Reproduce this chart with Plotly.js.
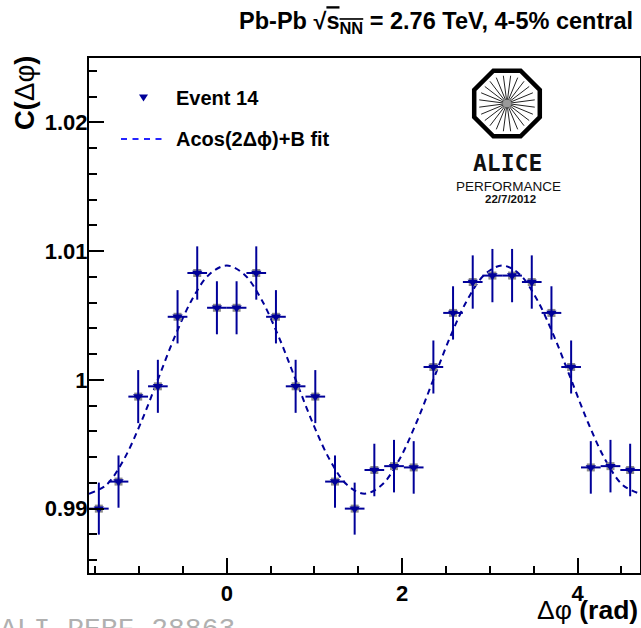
<!DOCTYPE html>
<html>
<head>
<meta charset="utf-8">
<script src="https://cdn.plot.ly/plotly-3.0.1.min.js"></script>
<style>html,body{margin:0;padding:0;background:#fff;} #chart{width:641px;height:628px;}</style>
</head>
<body>
<div id="chart"></div>
<script>
// ---- data ----
const binCenters = [-1.4586, -1.2342, -1.0098, -0.7854, -0.5610, -0.3366, -0.1122,
                    0.1122, 0.3366, 0.5610, 0.7854, 1.0098, 1.2342, 1.4586,
                    1.6830, 1.9074, 2.1318, 2.3562, 2.5806, 2.8050, 3.0294,
                    3.2538, 3.4782, 3.7026, 3.9270, 4.1514, 4.3758, 4.6002];
const corrValues = [0.9900, 0.9921, 0.9987, 0.9995, 1.0049, 1.0083, 1.0056,
                    1.0056, 1.0083, 1.0049, 0.9995, 0.9987, 0.9921, 0.9900,
                    0.9930, 0.9933, 0.9932, 1.0010, 1.0052, 1.0076, 1.0081,
                    1.0081, 1.0076, 1.0052, 1.0010, 0.9932, 0.9933, 0.9930];
const corrErrors = [0.00202, 0.00203, 0.00206, 0.00206, 0.00207, 0.00207, 0.00206,
                    0.00206, 0.00207, 0.00207, 0.00206, 0.00206, 0.00203, 0.00202,
                    0.00204, 0.00204, 0.00204, 0.00206, 0.00207, 0.00207, 0.00207,
                    0.00207, 0.00207, 0.00207, 0.00206, 0.00204, 0.00204, 0.00204];
const halfBinWidth = 0.1122;
const fitX = [-1.5708, -1.3744, -1.1781, -0.9817, -0.7854, -0.5890, -0.3927, -0.1963,
              0.0000, 0.1963, 0.3927, 0.5890, 0.7854, 0.9817, 1.1781, 1.3744,
              1.5708, 1.7671, 1.9635, 2.1598, 2.3562, 2.5525, 2.7489, 2.9452,
              3.1416, 3.3379, 3.5343, 3.7306, 3.9270, 4.1233, 4.3197, 4.5160, 4.7124];
const fitY = [0.99116, 0.99183, 0.99376, 0.99663, 1.00002, 1.00341, 1.00628, 1.00821,
              1.00888, 1.00821, 1.00628, 1.00341, 1.00002, 0.99663, 0.99376, 0.99183,
              0.99116, 0.99183, 0.99376, 0.99663, 1.00002, 1.00341, 1.00628, 1.00821,
              1.00888, 1.00821, 1.00628, 1.00341, 1.00002, 0.99663, 0.99376, 0.99183,
              0.99116];
const seriesName = 'Event 14';
const fitName = 'Acos(2\u0394\u03d5)+B fit';

// ---- layout helpers (pixel -> paper) ----
const W = 641, H = 628;
const L = 89, R = 640, T = 58, B = 573;
function px(x){ return (x - L) / (R - L); }
function py(y){ return (B - y) / (B - T); }
const FONT = 'Liberation Sans, Arial, Helvetica, sans-serif';
const NAVY = '#000099';

// ALICE logo octagon + rays (decoration)
const cx = 507, cy = 103.5;
let oct = '';
for (let k = 0; k < 8; k++) {
  const a = (22.5 + 45 * k) * Math.PI / 180, r = 35.5;
  oct += (k === 0 ? 'M' : 'L') + px(cx + r * Math.cos(a)).toFixed(5) + ',' + py(cy + r * Math.sin(a)).toFixed(5) + ' ';
}
oct += 'Z';
let rays = '';
for (let k = 0; k < 24; k++) {
  const a = (15 * k + 7.5) * Math.PI / 180;
  rays += 'M' + px(cx + 3 * Math.cos(a)).toFixed(5) + ',' + py(cy + 3 * Math.sin(a)).toFixed(5) +
          ' L' + px(cx + 28 * Math.cos(a)).toFixed(5) + ',' + py(cy + 28 * Math.sin(a)).toFixed(5) + ' ';
}
const legTri = 'M' + px(139).toFixed(5) + ',' + py(94.5).toFixed(5) + ' L' + px(148).toFixed(5) + ',' + py(94.5).toFixed(5) +
               ' L' + px(143.5).toFixed(5) + ',' + py(101.5).toFixed(5) + ' Z';

const traces = [
  { x: fitX, y: fitY, type: 'scatter', mode: 'lines', name: fitName, showlegend: false,
    line: { color: NAVY, width: 2, dash: '6px,4.5px', shape: 'spline' }, hoverinfo: 'skip' },
  { x: binCenters, y: corrValues, type: 'scatter', mode: 'markers', showlegend: false, hoverinfo: 'skip',
    marker: { symbol: 'square', size: 8, color: '#8c8c8c' } },
  { x: binCenters, y: corrValues, type: 'scatter', mode: 'markers', name: seriesName, showlegend: false,
    marker: { symbol: 'triangle-down', size: 9, color: NAVY },
    error_x: { type: 'constant', value: halfBinWidth, width: 0, thickness: 2, color: NAVY },
    error_y: { type: 'data', array: corrErrors, width: 0, thickness: 2, color: NAVY } }
];

const tickFont = { family: FONT, size: 22, color: '#000', weight: 'bold' };
const layout = {
  width: W, height: H,
  margin: { l: L, r: W - R, t: T, b: H - B, pad: 0 },
  paper_bgcolor: '#fff', plot_bgcolor: '#fff',
  showlegend: false,
  title: { text: 'Pb-Pb \u221a<span style="text-decoration:overline">s<sub>NN</sub></span> = 2.76 TeV, 4-5% central',
           font: { family: FONT, size: 23.5, color: '#000', weight: 'bold' },
           xref: 'container', x: 633 / W, xanchor: 'right', yref: 'container', y: 1 - 21 / H, yanchor: 'middle' },
  xaxis: { range: [-Math.PI / 2, 3 * Math.PI / 2], tick0: 0, dtick: 2, ticks: 'inside', ticklen: 15, tickwidth: 2,
           tickcolor: '#000', showline: true, linecolor: '#000', linewidth: 2, mirror: true,
           showgrid: false, zeroline: false, tickfont: tickFont,
           minor: { tick0: 0, dtick: 0.5, ticks: 'inside', ticklen: 7.5, tickwidth: 2, tickcolor: '#000', showgrid: false } },
  yaxis: { range: [0.985, 1.025], tick0: 1, dtick: 0.01, ticks: 'inside', ticklen: 15, tickwidth: 2,
           tickcolor: '#000', showline: true, linecolor: '#000', linewidth: 2, mirror: true,
           showgrid: false, zeroline: false, tickfont: tickFont, ticklabelstandoff: -5,
           minor: { tick0: 1, dtick: 0.002, ticks: 'inside', ticklen: 7.5, tickwidth: 2, tickcolor: '#000', showgrid: false } },
  shapes: [
    { type: 'path', xref: 'paper', yref: 'paper', path: oct, line: { color: '#000', width: 4.5 }, fillcolor: 'rgba(0,0,0,0)' },
    { type: 'path', xref: 'paper', yref: 'paper', path: rays, line: { color: '#222', width: 1 } },
    { type: 'circle', xref: 'paper', yref: 'paper', x0: px(cx - 4), x1: px(cx + 4), y0: py(cy + 4), y1: py(cy - 4),
      line: { width: 0 }, fillcolor: '#999' },
    { type: 'path', xref: 'paper', yref: 'paper', path: legTri, line: { width: 0 }, fillcolor: NAVY },
    { type: 'line', xref: 'paper', yref: 'paper', x0: px(121), x1: px(167), y0: py(139), y1: py(139),
      line: { color: '#2424ff', width: 2, dash: '6px,5.5px' } }
  ],
  annotations: [
    { text: 'Event 14', xref: 'paper', yref: 'paper', x: px(174), y: py(98), xanchor: 'left', yanchor: 'middle',
      showarrow: false, font: { family: FONT, size: 20, color: '#000', weight: 'bold' } },
    { text: fitName, xref: 'paper', yref: 'paper', x: px(174), y: py(139), xanchor: 'left', yanchor: 'middle',
      showarrow: false, font: { family: FONT, size: 20, color: '#000', weight: 'bold' } },
    { text: '<b>C(</b>\u0394\u03c6<b>)</b>', xref: 'paper', yref: 'paper', x: px(24), y: py(54), xanchor: 'center', yanchor: 'top',
      textangle: -90, showarrow: false, font: { family: FONT, size: 27.5, color: '#000' } },
    { text: '\u0394\u03c6 <b>(rad)</b>', xref: 'paper', yref: 'paper', x: px(640), y: py(627), xanchor: 'right', yanchor: 'bottom',
      showarrow: false, font: { family: FONT, size: 26.5, color: '#000' } },
    { text: 'ALICE', xref: 'paper', yref: 'paper', x: px(507), y: py(163), xanchor: 'center', yanchor: 'middle',
      showarrow: false, font: { family: 'DejaVu Sans Mono, monospace', size: 23, color: '#111', weight: 'bold' } },
    { text: 'PERFORMANCE', xref: 'paper', yref: 'paper', x: px(508), y: py(186.5), xanchor: 'center', yanchor: 'middle',
      showarrow: false, font: { family: FONT, size: 13.5, color: '#111' } },
    { text: '22/7/2012', xref: 'paper', yref: 'paper', x: px(510), y: py(198.5), xanchor: 'center', yanchor: 'middle',
      showarrow: false, font: { family: FONT, size: 11.5, color: '#111', weight: 'bold' } },
    { text: 'ALI-PERF-28863', xref: 'paper', yref: 'paper', x: px(-2), y: py(629), xanchor: 'left', yanchor: 'middle',
      showarrow: false, font: { family: 'Liberation Mono, Courier New, monospace', size: 28, color: '#b0b0b0' } }
  ]
};

Plotly.newPlot('chart', traces, layout, { staticPlot: true, displayModeBar: false });
</script>
</body>
</html>
